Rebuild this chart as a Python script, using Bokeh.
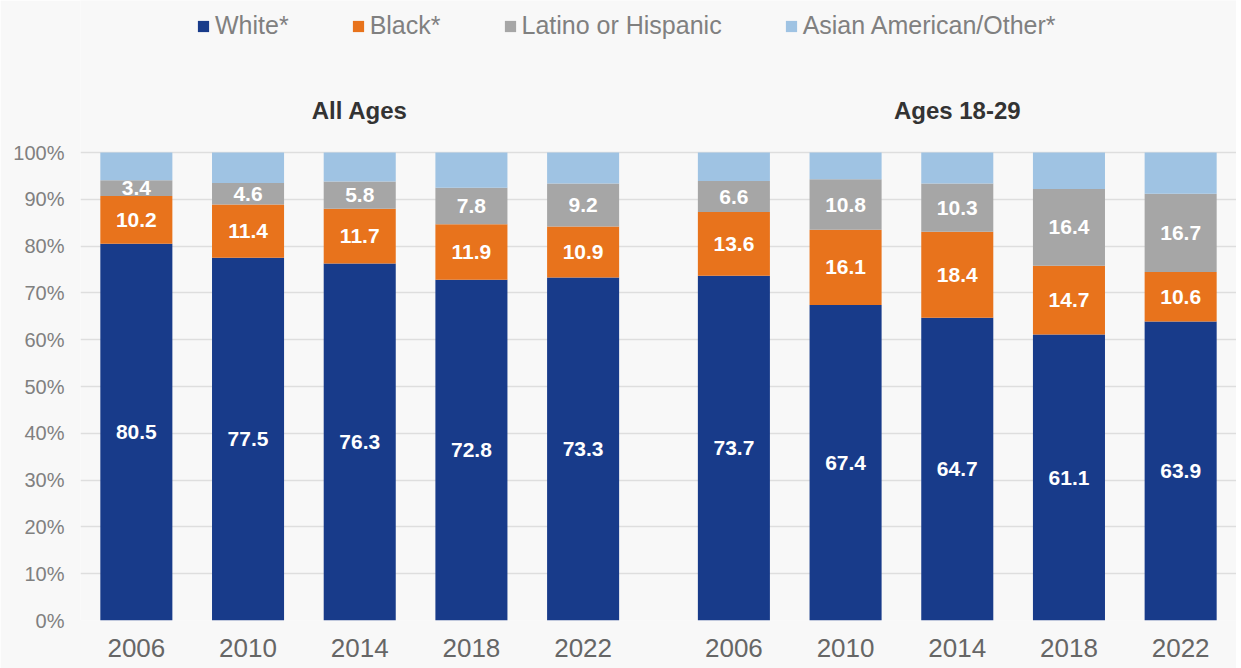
from bokeh.plotting import figure
from bokeh.models import (ColumnDataSource, FactorRange, FixedTicker, Legend, LegendItem)
from bokeh.core.properties import value
from bokeh.embed import file_html
from bokeh.resources import INLINE

# ---------------- data ----------------
years = ["2006", "2010", "2014", "2018", "2022"]
groups = ["All Ages", "Ages 18-29"]
series_names = ["White*", "Black*", "Latino or Hispanic", "Asian American/Other*"]

all_white = [80.5, 77.5, 76.3, 72.8, 73.3]
all_black = [10.2, 11.4, 11.7, 11.9, 10.9]
all_latino = [3.4, 4.6, 5.8, 7.8, 9.2]
all_asian = [5.9, 6.5, 6.2, 7.5, 6.6]

young_white = [73.7, 67.4, 64.7, 61.1, 63.9]
young_black = [13.6, 16.1, 18.4, 14.7, 10.6]
young_latino = [6.6, 10.8, 10.3, 16.4, 16.7]
young_asian = [6.1, 5.7, 6.6, 7.8, 8.8]

y_ticks = [0, 10, 20, 30, 40, 50, 60, 70, 80, 90, 100]
y_tick_labels = ["0%", "10%", "20%", "30%", "40%", "50%", "60%", "70%", "80%", "90%", "100%"]

# ---------------- styles ----------------
colors = ["#183b8a", "#e8731c", "#a6a6a6", "#9fc3e3"]
FONT = "Liberation Sans"

x = [(groups[0], yr) for yr in years] + [(groups[1], yr) for yr in years]
white = all_white + young_white
black = all_black + young_black
latino = all_latino + young_latino
asian = all_asian + young_asian

src = ColumnDataSource(dict(x=x, white=white, black=black, latino=latino, asian=asian))

p = figure(
    x_range=FactorRange(*x, group_padding=0.35, range_padding=0, factor_padding=0),
    y_range=(0, 132.5),
    width=1236, height=668,
    output_backend="svg", toolbar_location=None,
    min_border_left=80, min_border_right=0, min_border_top=0, min_border_bottom=48,
    background_fill_color="#f8f8f8", border_fill_color="#f8f8f8",
)
p.outline_line_color = None

rs = p.vbar_stack(["white", "black", "latino", "asian"], x="x", width=0.645,
                  source=src, color=colors, line_color=None)

# segment labels
lab_x, lab_y, lab_t = [], [], []
for i, xi in enumerate(x):
    base = 0.0
    for vals in (white, black, latino):
        v = vals[i]
        lab_x.append(xi)
        lab_y.append(base + v / 2.0)
        lab_t.append(f"{v:.1f}")
        base += v
lsrc = ColumnDataSource(dict(x=lab_x, y=lab_y, t=lab_t))
p.text(x="x", y="y", text="t", source=lsrc, text_align="center", text_baseline="middle",
       text_color="white", text_font=value(FONT), text_font_style="bold",
       text_font_size="21px")

# panel titles
tsrc = ColumnDataSource(dict(x=[(groups[0], "2014"), (groups[1], "2014")], y=[109, 109], t=groups))
p.text(x="x", y="y", text="t", source=tsrc, text_align="center", text_baseline="middle",
       text_color="#333333", text_font=value(FONT), text_font_style="bold",
       text_font_size="24px")

# axes
p.yaxis.ticker = FixedTicker(ticks=y_ticks)
p.yaxis.major_label_overrides = {t: l for t, l in zip(y_ticks, y_tick_labels)}
p.yaxis.axis_line_color = None
p.yaxis.major_tick_line_color = None
p.yaxis.minor_tick_line_color = None
p.yaxis.major_label_text_font = FONT
p.yaxis.major_label_text_font_size = "20px"
p.yaxis.major_label_text_color = "#808080"
p.yaxis.major_label_standoff = 10

p.xaxis.axis_line_color = None
p.xaxis.major_tick_line_color = None
p.xaxis.major_label_text_font = FONT
p.xaxis.major_label_text_font_size = "26px"
p.xaxis.major_label_text_color = "#666666"
p.xaxis.major_label_standoff = 12
p.xaxis.group_text_font_size = "0px"
p.xaxis.separator_line_alpha = 0
p.xaxis.major_label_orientation = "horizontal"

p.xgrid.grid_line_color = None
p.ygrid.ticker = FixedTicker(ticks=y_ticks)
p.ygrid.grid_line_color = "#dedede"
p.ygrid.grid_line_width = 1.5

legend = Legend(items=[LegendItem(label=n, renderers=[r]) for n, r in zip(series_names, rs)],
                orientation="horizontal", location=(116, 580),
                background_fill_alpha=0, border_line_color=None,
                label_text_font=FONT, label_text_font_size="25px",
                label_text_color="#808080", glyph_width=14, glyph_height=14,
                spacing=62, padding=0, margin=0, label_standoff=5)
p.add_layout(legend)

open("out.html", "w").write(file_html(p, INLINE))
